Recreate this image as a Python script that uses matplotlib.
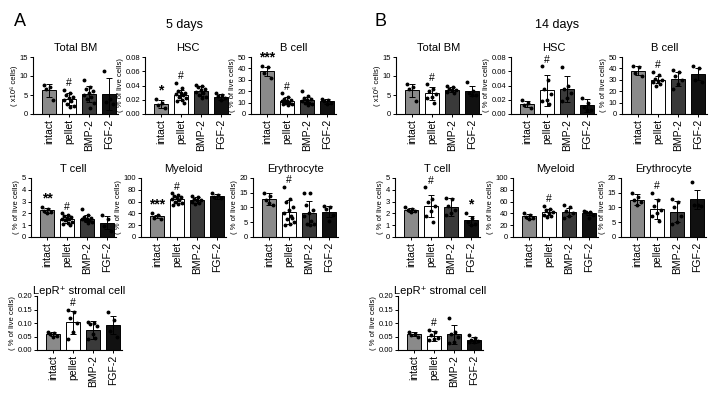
import numpy as np
import matplotlib
matplotlib.use('Agg')
import matplotlib.pyplot as plt

plt.rcParams['font.family'] = ['Liberation Sans', 'DejaVu Sans']

groups = ['intact', 'pellet', 'BMP-2', 'FGF-2']
colors = ['#8a8a8a', 'white', '#3a3a3a', '#111111']

# ---- 5 days ----
d5_bm_mean = [6.2, 4.0, 5.2, 5.3]
d5_bm_sd = [1.8, 1.6, 2.1, 4.2]
d5_bm_pts = [[7.6, 7.0, 6.5, 3.7], [6.3, 5.5, 5.0, 4.6, 4.2, 3.8, 3.3, 2.7, 2.2, 1.8],
             [9.0, 7.0, 6.5, 6.0, 5.5, 5.0, 4.5, 4.0, 3.0, 1.5], [11.3, 4.0, 3.2, 2.7]]
d5_bm_sig = ['', '#', '', '']

d5_hsc_mean = [0.014, 0.027, 0.032, 0.024]
d5_hsc_sd = [0.005, 0.007, 0.007, 0.004]
d5_hsc_pts = [[0.021, 0.016, 0.012, 0.008],
              [0.044, 0.036, 0.032, 0.030, 0.029, 0.028, 0.026, 0.024, 0.022, 0.020, 0.018, 0.015],
              [0.041, 0.040, 0.038, 0.035, 0.033, 0.031, 0.029, 0.027, 0.024, 0.022],
              [0.029, 0.027, 0.025, 0.022, 0.020]]
d5_hsc_sig = ['*', '#', '', '']

d5_b_mean = [37.5, 11.5, 12.3, 11.0]
d5_b_sd = [4.0, 3.0, 3.0, 2.0]
d5_b_pts = [[42, 41, 36, 32], [18, 15, 13, 12, 11, 11, 10, 10, 9, 8, 9],
            [20, 16, 14, 13, 12, 11, 10, 10, 9, 8], [13.5, 12.5, 11, 10, 8.5]]
d5_b_sig = ['***', '#', '', '']

d5_t_mean = [2.25, 1.5, 1.55, 1.2]
d5_t_sd = [0.2, 0.35, 0.3, 0.55]
d5_t_pts = [[2.5, 2.35, 2.2, 2.1, 2.05], [2.0, 1.9, 1.8, 1.7, 1.6, 1.5, 1.5, 1.4, 1.3, 1.2, 1.1, 1.0],
            [2.4, 1.9, 1.7, 1.6, 1.55, 1.5, 1.45, 1.4, 1.3, 1.2], [1.9, 1.5, 0.9, 0.5]]
d5_t_sig = ['**', '#', '', '']

d5_my_mean = [35, 64, 62, 69]
d5_my_sd = [3, 6, 5, 4]
d5_my_pts = [[40, 38, 33, 31], [74, 72, 70, 68, 66, 64, 62, 60, 58, 56, 54],
             [70, 67, 65, 63, 62, 60, 58, 56], [75, 72, 68, 66]]
d5_my_sig = ['***', '#', '', '']

d5_ery_mean = [12.8, 8.5, 8.1, 8.6]
d5_ery_sd = [2.0, 4.2, 4.0, 1.8]
d5_ery_pts = [[15, 14, 12.5, 11, 11.5], [17, 13, 12, 10, 9, 8, 7, 6, 5, 4.5, 4, 6.5],
              [14.8, 14.8, 11, 9, 8, 7, 5.5, 4.5, 4.5, 4], [10.5, 10, 9.5, 7.5, 5.5]]
d5_ery_sig = ['', '#', '', '']

d5_lepr_mean = [0.058, 0.102, 0.075, 0.092]
d5_lepr_sd = [0.007, 0.042, 0.033, 0.033]
d5_lepr_pts = [[0.068, 0.062, 0.058, 0.052, 0.050], [0.148, 0.14, 0.12, 0.10, 0.065, 0.04],
               [0.105, 0.10, 0.098, 0.09, 0.06, 0.04, 0.045], [0.14, 0.11, 0.07, 0.05]]
d5_lepr_sig = ['', '#', '', '']

# ---- 14 days ----
d14_bm_mean = [6.2, 5.4, 6.4, 6.0]
d14_bm_sd = [1.8, 1.8, 0.7, 1.3]
d14_bm_pts = [[7.8, 7.2, 6.5, 3.3], [7.8, 6.6, 6.0, 5.2, 4.6, 4.2, 3.0],
              [7.3, 7.0, 6.6, 6.3, 6.2, 5.8, 5.6], [8.5, 6.0, 5.5, 5.0, 5.0]]
d14_bm_sig = ['', '#', '', '']

d14_hsc_mean = [0.014, 0.033, 0.035, 0.012]
d14_hsc_sd = [0.004, 0.022, 0.018, 0.009]
d14_hsc_pts = [[0.019, 0.016, 0.012, 0.009], [0.067, 0.048, 0.035, 0.028, 0.020, 0.018, 0.014],
               [0.066, 0.040, 0.035, 0.030, 0.022, 0.018], [0.022, 0.016, 0.010, 0.006, 0.006]]
d14_hsc_sig = ['', '#', '', '']

d14_b_mean = [38, 30, 31, 35]
d14_b_sd = [4, 3, 6, 5]
d14_b_pts = [[42, 41, 36, 33], [37, 34, 31, 30, 29, 28, 26, 25],
             [39, 37, 33, 30, 26, 22], [42, 40, 30, 28]]
d14_b_sig = ['', '#', '', '']

d14_t_mean = [2.3, 2.65, 2.55, 1.4]
d14_t_sd = [0.15, 0.95, 0.75, 0.4]
d14_t_pts = [[2.55, 2.4, 2.3, 2.2, 2.1], [4.2, 3.2, 3.0, 2.6, 2.2, 1.8, 1.3],
             [3.3, 3.2, 2.6, 2.3, 2.0, 1.9], [2.0, 1.6, 1.3, 1.1, 1.0]]
d14_t_sig = ['', '#', '', '*']

d14_my_mean = [35, 42, 42, 40]
d14_my_sd = [4, 5, 7, 3]
d14_my_pts = [[40, 38, 34, 32, 31], [53, 48, 45, 42, 40, 38, 36, 34],
              [55, 50, 44, 40, 36, 33], [44, 43, 42, 38, 33]]
d14_my_sig = ['', '#', '', '']

d14_ery_mean = [12.7, 9.6, 8.6, 12.8]
d14_ery_sd = [2.0, 3.4, 3.5, 3.2]
d14_ery_pts = [[14.8, 13.5, 12.5, 11.7, 11], [15, 12.5, 10.5, 9, 8, 7, 5.5],
               [13, 12, 10, 7, 5, 4.5], [18.5, 11, 11, 10.5]]
d14_ery_sig = ['', '#', '', '']

d14_lepr_mean = [0.058, 0.053, 0.059, 0.038]
d14_lepr_sd = [0.007, 0.018, 0.035, 0.012]
d14_lepr_pts = [[0.068, 0.060, 0.055, 0.050], [0.075, 0.065, 0.055, 0.045, 0.040, 0.038],
                [0.118, 0.068, 0.060, 0.050, 0.030, 0.025], [0.055, 0.045, 0.038, 0.032, 0.030, 0.028]]
d14_lepr_sig = ['', '#', '', '']

W, H = 727, 409
fig = plt.figure(figsize=(W / 100, H / 100), dpi=100)

live = '( % of live cells)'
cells = '( x10⁶ cells)'


def panel(left, top, bottom, title, ylabel, ylim, yticks, fmt, means, sds, pts, sig, tpad=4):
    ax = fig.add_axes([left / W, 1 - bottom / H, 85 / W, (bottom - top) / H])
    x = np.arange(4)
    ax.bar(x, means, width=0.7, color=colors, edgecolor='black', linewidth=0.7, zorder=1)
    ax.errorbar(x, means, yerr=sds, fmt='none', ecolor='black', elinewidth=0.7,
                capsize=2.2, capthick=0.7, zorder=2)
    for i, p in enumerate(pts):
        n = len(p)
        off = (((np.arange(n) * 0.618) % 1) - 0.5) * 0.55
        ax.plot(x[i] + off, p, 'o', ms=1.8, color='black', zorder=3)
        if sig[i]:
            top_v = max(means[i] + sds[i], max(p))
            star = '*' in sig[i]
            ax.text(x[i], top_v + 0.03 * ylim[1], sig[i], ha='center', va='bottom',
                    fontsize=10 if star else 7.5, fontweight='bold' if star else 'normal')
    ax.set_xlim(-0.8, 3.45)
    ax.set_ylim(*ylim)
    ax.set_yticks(yticks)
    ax.set_yticklabels([fmt.format(v) for v in yticks], fontsize=5.5)
    ax.set_xticks(x)
    ax.set_xticklabels(groups, rotation=90, fontsize=7.5)
    ax.tick_params(length=2.5, width=0.7, pad=1)
    for s in ['top', 'right']:
        ax.spines[s].set_visible(False)
    for s in ['left', 'bottom']:
        ax.spines[s].set_linewidth(0.8)
    ax.set_ylabel(ylabel, fontsize=5.5, labelpad=1)
    ax.set_title(title, fontsize=8, pad=tpad)
    return ax


r1 = (57, 114)
r2 = (178, 237)
r3 = (296, 350)

# panel A, 5 days
panel(33, *r1, 'Total BM', cells, (0, 15), [0, 5, 10, 15], '{:g}', d5_bm_mean, d5_bm_sd, d5_bm_pts, d5_bm_sig)
panel(145, *r1, 'HSC', live, (0, 0.08), [0, 0.02, 0.04, 0.06, 0.08], '{:.2f}', d5_hsc_mean, d5_hsc_sd, d5_hsc_pts, d5_hsc_sig)
panel(251, *r1, 'B cell', live, (0, 50), [0, 10, 20, 30, 40, 50], '{:g}', d5_b_mean, d5_b_sd, d5_b_pts, d5_b_sig)
panel(31, *r2, 'T cell', live, (0, 5), [0, 1, 2, 3, 4, 5], '{:g}', d5_t_mean, d5_t_sd, d5_t_pts, d5_t_sig)
panel(141, *r2, 'Myeloid', live, (0, 100), [0, 20, 40, 60, 80, 100], '{:g}', d5_my_mean, d5_my_sd, d5_my_pts, d5_my_sig)
panel(253, *r2, 'Erythrocyte', live, (0, 20), [0, 5, 10, 15, 20], '{:g}', d5_ery_mean, d5_ery_sd, d5_ery_pts, d5_ery_sig)
panel(37, *r3, 'LepR⁺ stromal cell', live, (0, 0.2), [0, 0.05, 0.1, 0.15, 0.2], '{:.2f}', d5_lepr_mean, d5_lepr_sd, d5_lepr_pts, d5_lepr_sig, tpad=1)

# panel B, 14 days
panel(396, *r1, 'Total BM', cells, (0, 15), [0, 5, 10, 15], '{:g}', d14_bm_mean, d14_bm_sd, d14_bm_pts, d14_bm_sig)
panel(511, *r1, 'HSC', live, (0, 0.08), [0, 0.02, 0.04, 0.06, 0.08], '{:.2f}', d14_hsc_mean, d14_hsc_sd, d14_hsc_pts, d14_hsc_sig)
panel(622, *r1, 'B cell', live, (0, 50), [0, 10, 20, 30, 40, 50], '{:g}', d14_b_mean, d14_b_sd, d14_b_pts, d14_b_sig)
panel(395, *r2, 'T cell', live, (0, 5), [0, 1, 2, 3, 4, 5], '{:g}', d14_t_mean, d14_t_sd, d14_t_pts, d14_t_sig)
panel(513, *r2, 'Myeloid', live, (0, 100), [0, 20, 40, 60, 80, 100], '{:g}', d14_my_mean, d14_my_sd, d14_my_pts, d14_my_sig)
panel(621, *r2, 'Erythrocyte', live, (0, 20), [0, 5, 10, 15, 20], '{:g}', d14_ery_mean, d14_ery_sd, d14_ery_pts, d14_ery_sig)
panel(398, *r3, 'LepR⁺ stromal cell', live, (0, 0.2), [0, 0.05, 0.1, 0.15, 0.2], '{:.2f}', d14_lepr_mean, d14_lepr_sd, d14_lepr_pts, d14_lepr_sig, tpad=1)

fig.text(20 / W, 1 - 21 / H, 'A', fontsize=13, ha='center', va='center')
fig.text(380 / W, 1 - 21 / H, 'B', fontsize=13, ha='center', va='center')
fig.text(185 / W, 1 - 25 / H, '5 days', fontsize=9, ha='center', va='center')
fig.text(557 / W, 1 - 25 / H, '14 days', fontsize=9, ha='center', va='center')

fig.savefig('out.png', dpi=100)
